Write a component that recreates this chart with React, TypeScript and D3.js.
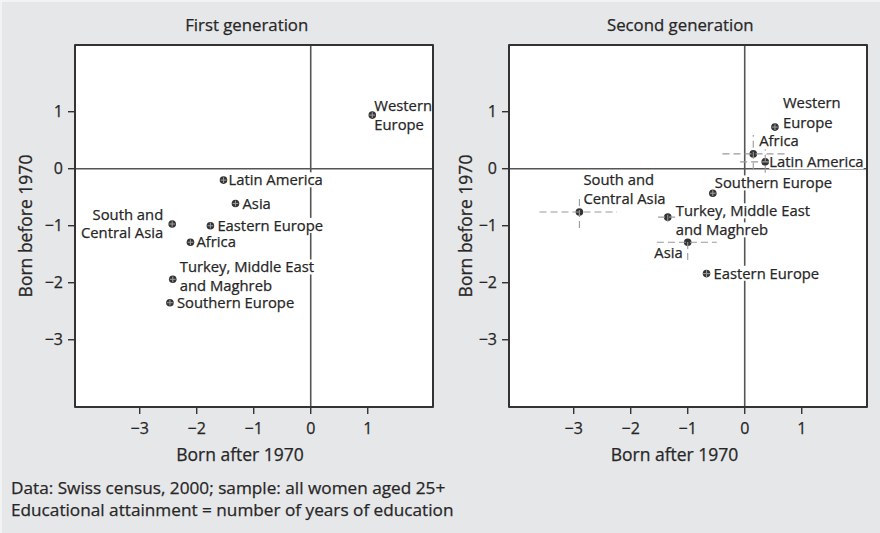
import React, { useEffect, useRef } from "react";
import * as d3 from "d3";

const panels = ["First generation", "Second generation"];
const regions = [
  "Western Europe",
  "Latin America",
  "Asia",
  "South and Central Asia",
  "Eastern Europe",
  "Africa",
  "Turkey, Middle East and Maghreb",
  "Southern Europe",
];
// first generation
const firstX = [1.08, -1.53, -1.32, -2.43, -1.76, -2.11, -2.42, -2.47];
const firstY = [0.94, -0.2, -0.61, -0.97, -1.0, -1.29, -1.94, -2.35];
// second generation
const secondX = [0.53, 0.36, -1.0, -2.9, -0.67, 0.15, -1.35, -0.56];
const secondY = [0.73, 0.12, -1.29, -0.76, -1.84, 0.26, -0.85, -0.43];
// confidence intervals
const firstXLo = [1.03, -1.58, -1.37, -2.48, -1.81, -2.16, -2.47, -2.52];
const firstXHi = [1.13, -1.48, -1.27, -2.38, -1.71, -2.06, -2.37, -2.42];
const firstYLo = [0.89, -0.25, -0.66, -1.02, -1.05, -1.34, -1.99, -2.4];
const firstYHi = [0.99, -0.15, -0.56, -0.92, -0.95, -1.24, -1.89, -2.3];
const secondXLo = [0.48, -0.08, -1.54, -3.6, -0.73, -0.39, -1.52, -0.61];
const secondXHi = [0.58, 0.5, -0.49, -2.24, -0.61, 0.71, -1.22, -0.51];
const secondYLo = [0.68, -0.07, -1.6, -1.04, -1.9, -0.02, -0.93, -0.48];
const secondYHi = [0.78, 0.34, -1.22, -0.52, -1.78, 0.59, -0.77, -0.38];

const tickValues = [-3, -2, -1, 0, 1];
const xTitle = "Born after 1970";
const yTitle = "Born before 1970";
const notes = [
  "Data: Swiss census, 2000; sample: all women aged 25+",
  "Educational attainment = number of years of education",
];

// label layout: lines, anchor, dx, dy per line
type Lab = { lines: string[]; anchor: string; dx: number; dy: number[] };
const firstLabels: Lab[] = [
  { lines: ["Western", "Europe"], anchor: "start", dx: 2, dy: [-9, 10] },
  { lines: ["Latin America"], anchor: "start", dx: 5, dy: [0] },
  { lines: ["Asia"], anchor: "start", dx: 7, dy: [0] },
  { lines: ["South and", "Central Asia"], anchor: "end", dx: -9, dy: [-9, 9] },
  { lines: ["Eastern Europe"], anchor: "start", dx: 7, dy: [0] },
  { lines: ["Africa"], anchor: "start", dx: 6, dy: [0] },
  { lines: ["Turkey, Middle East", "and Maghreb"], anchor: "start", dx: 7, dy: [-12, 7] },
  { lines: ["Southern Europe"], anchor: "start", dx: 7, dy: [0.5] },
];
const secondLabels: Lab[] = [
  { lines: ["Western", "Europe"], anchor: "start", dx: 8, dy: [-24, -4] },
  { lines: ["Latin America"], anchor: "start", dx: 4, dy: [0] },
  { lines: ["Asia"], anchor: "end", dx: -5, dy: [11] },
  { lines: ["South and", "Central Asia"], anchor: "start", dx: 4, dy: [-32, -13] },
  { lines: ["Eastern Europe"], anchor: "start", dx: 7, dy: [0] },
  { lines: ["Africa"], anchor: "start", dx: 6, dy: [-13] },
  { lines: ["Turkey, Middle East", "and Maghreb"], anchor: "start", dx: 8, dy: [-6, 13] },
  { lines: ["Southern Europe"], anchor: "start", dx: 2, dy: [-10] },
];

const FONT = "'Open Sans', sans-serif";
const TXT = "#262626";
const fmt = (v: number) => (v < 0 ? "\u2212" + Math.abs(v) : String(v));

export default function App() {
  const ref = useRef<SVGSVGElement>(null);
  useEffect(() => {
    const svg = d3.select(ref.current);
    svg.selectAll("*").remove();
    svg.append("rect").attr("width", 880).attr("height", 533).attr("fill", "#f3f3f4");
    svg.append("rect").attr("x", 2).attr("y", 2).attr("width", 878).attr("height", 531).attr("fill", "#e6e7e9");

    const cfg = [
      { x0: 75, x1: 433, title: panels[0], tcx: 246.7, xcx: 240, ycx: 26, xs: firstX, ys: firstY, xl: firstXLo, xh: firstXHi, yl: firstYLo, yh: firstYHi, labs: firstLabels, dash: false },
      { x0: 509, x1: 867, title: panels[1], tcx: 680.3, xcx: 674.5, ycx: 466, xs: secondX, ys: secondY, xl: secondXLo, xh: secondXHi, yl: secondYLo, yh: secondYHi, labs: secondLabels, dash: true },
    ];
    const y = d3.scaleLinear().domain([-4.18, 2.17]).range([407, 45]);

    cfg.forEach((c) => {
      const x = d3.scaleLinear().domain([-4.135, 2.145]).range([c.x0, c.x1]);
      const g = svg.append("g").attr("font-family", FONT).attr("fill", TXT)
        .attr("stroke-linejoin", "round");
      g.append("rect").attr("x", c.x0).attr("y", 45).attr("width", c.x1 - c.x0).attr("height", 362).attr("fill", "#fff");
      g.append("line").attr("x1", x(0)).attr("x2", x(0)).attr("y1", 45).attr("y2", 407).attr("stroke", "#555").attr("stroke-width", 1.6);
      g.append("line").attr("x1", c.x0).attr("x2", c.x1).attr("y1", y(0)).attr("y2", y(0)).attr("stroke", "#555").attr("stroke-width", 1.6);

      c.labs.forEach((lab, i) => {
        const px = x(c.xs[i]);
        const py = y(c.ys[i]);
        lab.lines.forEach((line, j) => {
          const t = g.append("text")
            .attr("x", px + lab.dx)
            .attr("y", py + lab.dy[j])
            .attr("dy", "0.35em")
            .attr("text-anchor", lab.anchor)
            .attr("font-size", 14.8)
            .attr("stroke", TXT).attr("stroke-width", 0.25)
            .text(line);
          const bb = (t.node() as SVGTextElement).getBBox();
          g.insert("rect", () => t.node())
            .attr("x", bb.x)
            .attr("y", bb.y + 3)
            .attr("width", bb.width)
            .attr("height", bb.height - 5)
            .attr("fill", "#fff").attr("stroke", "none");
        });
      });

      c.xs.forEach((v, i) => {
        g.append("circle").attr("cx", x(v)).attr("cy", y(c.ys[i])).attr("r", 3.8).attr("fill", "#333");
      });
      c.xs.forEach((v, i) => {
        const px = x(v), py = y(c.ys[i]);
        g.append("line").attr("x1", x(c.xl[i])).attr("x2", x(c.xh[i])).attr("y1", py).attr("y2", py)
          .attr("stroke", "#9a9a9a").attr("stroke-width", 1.1).attr("stroke-dasharray", c.dash ? "7,4" : null);
        g.append("line").attr("x1", px).attr("x2", px).attr("y1", y(c.yl[i])).attr("y2", y(c.yh[i]))
          .attr("stroke", "#9a9a9a").attr("stroke-width", 1.1).attr("stroke-dasharray", c.dash ? "7,4" : null);
      });

      g.append("rect").attr("x", c.x0).attr("y", 45).attr("width", c.x1 - c.x0).attr("height", 362)
        .attr("fill", "none").attr("stroke", "#333").attr("stroke-width", 2);

      tickValues.forEach((tv) => {
        g.append("line").attr("x1", x(tv)).attr("x2", x(tv)).attr("y1", 407).attr("y2", 414).attr("stroke", "#333").attr("stroke-width", 1.4);
        g.append("text").attr("x", x(tv)).attr("y", 428).attr("dy", "0.35em").attr("text-anchor", "middle").attr("font-size", 16)
          .attr("stroke", TXT).attr("stroke-width", 0.25).text(fmt(tv));
        g.append("line").attr("x1", c.x0 - 7).attr("x2", c.x0).attr("y1", y(tv)).attr("y2", y(tv)).attr("stroke", "#333").attr("stroke-width", 1.4);
        g.append("text").attr("x", c.x0 - 12).attr("y", y(tv)).attr("dy", "0.35em").attr("text-anchor", "end").attr("font-size", 16)
          .attr("stroke", TXT).attr("stroke-width", 0.25).text(fmt(tv));
      });

      g.append("text").attr("x", c.tcx).attr("y", 25).attr("dy", "0.35em").attr("text-anchor", "middle").attr("font-size", 16.8)
        .attr("stroke", TXT).attr("stroke-width", 0.25).text(c.title);
      g.append("text").attr("x", c.xcx).attr("y", 455).attr("dy", "0.35em").attr("text-anchor", "middle").attr("font-size", 17.5)
        .attr("stroke", TXT).attr("stroke-width", 0.25).text(xTitle);
      g.append("text").attr("transform", `translate(${c.ycx},226) rotate(-90)`).attr("dy", "0.35em").attr("text-anchor", "middle").attr("font-size", 17.5)
        .attr("stroke", TXT).attr("stroke-width", 0.25).text(yTitle);
    });

    const f = svg.append("g").attr("font-family", FONT).attr("fill", TXT).attr("font-size", 17.2)
      .attr("stroke", TXT).attr("stroke-width", 0.25);
    notes.forEach((n, i) => {
      f.append("text").attr("x", 11).attr("y", 488 + i * 22).attr("dy", "0.35em").text(n);
    });
  }, []);
  return (
    <svg ref={ref} width={880} height={533} style={{ position: "fixed", left: 0, top: 0, display: "block" }} />
  );
}
